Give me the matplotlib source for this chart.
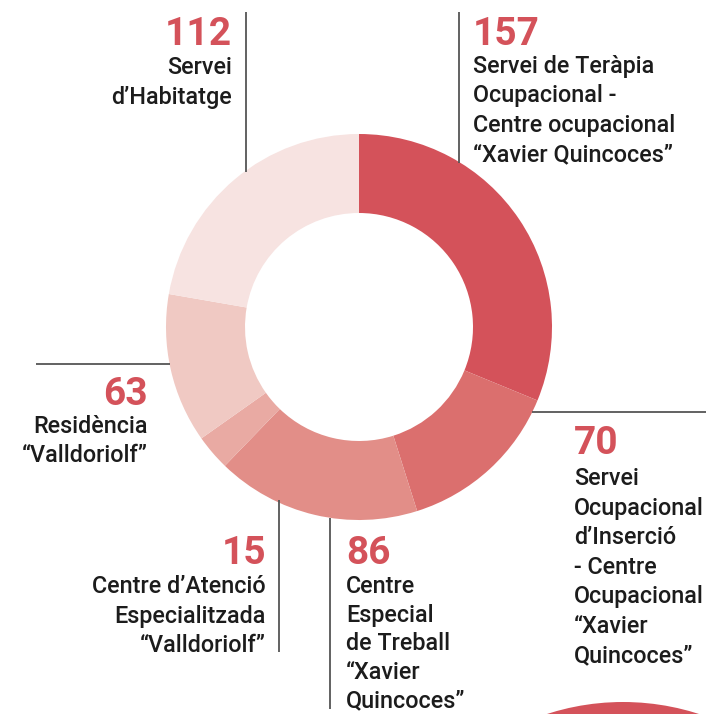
import matplotlib

matplotlib.use("Agg")

import matplotlib.pyplot as plt
from matplotlib.patches import Circle

# data, clockwise from 12 o'clock
values = [157, 70, 86, 15, 63, 112]
labels = [
    ["Servei de Teràpia", "Ocupacional -", "Centre ocupacional", "“Xavier Quincoces”"],
    ["Servei", "Ocupacional", "d’Inserció", "- Centre", "Ocupacional", "“Xavier", "Quincoces”"],
    ["Centre", "Especial", "de Treball", "“Xavier", "Quincoces”"],
    ["Centre d’Atenció", "Especialitzada", "“Valldoriolf”"],
    ["Residència", "“Valldoriolf”"],
    ["Servei", "d’Habitatge"],
]
colors = ["#d4525a", "#db6f6e", "#e28e88", "#e9aaa3", "#f0c9c3", "#f7e3e1"]

# layout in pixel units (x, number baseline, first label baseline, line gap, align)
label_pos = [
    (473, 45, 73, 29.3, "left"),
    (574, 454, 485, 29.6, "left"),
    (346, 564, 593, 28.6, "left"),
    (266, 564, 593, 29.5, "right"),
    (148, 405, 433, 29.5, "right"),
    (232, 45, 74, 30.0, "right"),
]
leaders = [
    ((459, 459), (12, 163)),
    ((532, 706), (412, 412)),
    ((330, 330), (518, 709)),
    ((279, 279), (500, 652)),
    ((36, 170), (364, 364)),
    ((246, 246), (12, 172)),
]

W, H = 706, 714
CENTER = (359, 327)
R_OUT, R_IN = 193, 114
RED = "#d4525a"
INK = "#1c1c1c"

fig = plt.figure(figsize=(W / 100, H / 100), dpi=100)
ax = fig.add_axes([0, 0, 1, 1])

ax.pie(
    values,
    colors=colors,
    startangle=-90,
    counterclock=True,
    center=CENTER,
    radius=R_OUT,
    wedgeprops=dict(width=R_OUT - R_IN, linewidth=0),
)

# partial circle peeking in at the bottom right
ax.add_patch(Circle((623, 949), 247, color=RED, lw=0))

for (xs, ys) in leaders:
    ax.plot(xs, ys, color="#555555", lw=1.3, solid_capstyle="butt")

for val, lines, (x, nb, lb, gap, ha) in zip(values, labels, label_pos):
    ax.text(x, nb, str(val), ha=ha, va="baseline", color=RED,
            fontsize=28, fontweight="bold", family="Roboto")
    for i, line in enumerate(lines):
        ax.text(x, lb + i * gap, line, ha=ha, va="baseline", color=INK,
                fontsize=16.8, fontweight="medium", family="Roboto")

ax.set_xlim(0, W)
ax.set_ylim(H, 0)
ax.set_aspect("equal")
ax.axis("off")

fig.savefig("out.png", dpi=100)
